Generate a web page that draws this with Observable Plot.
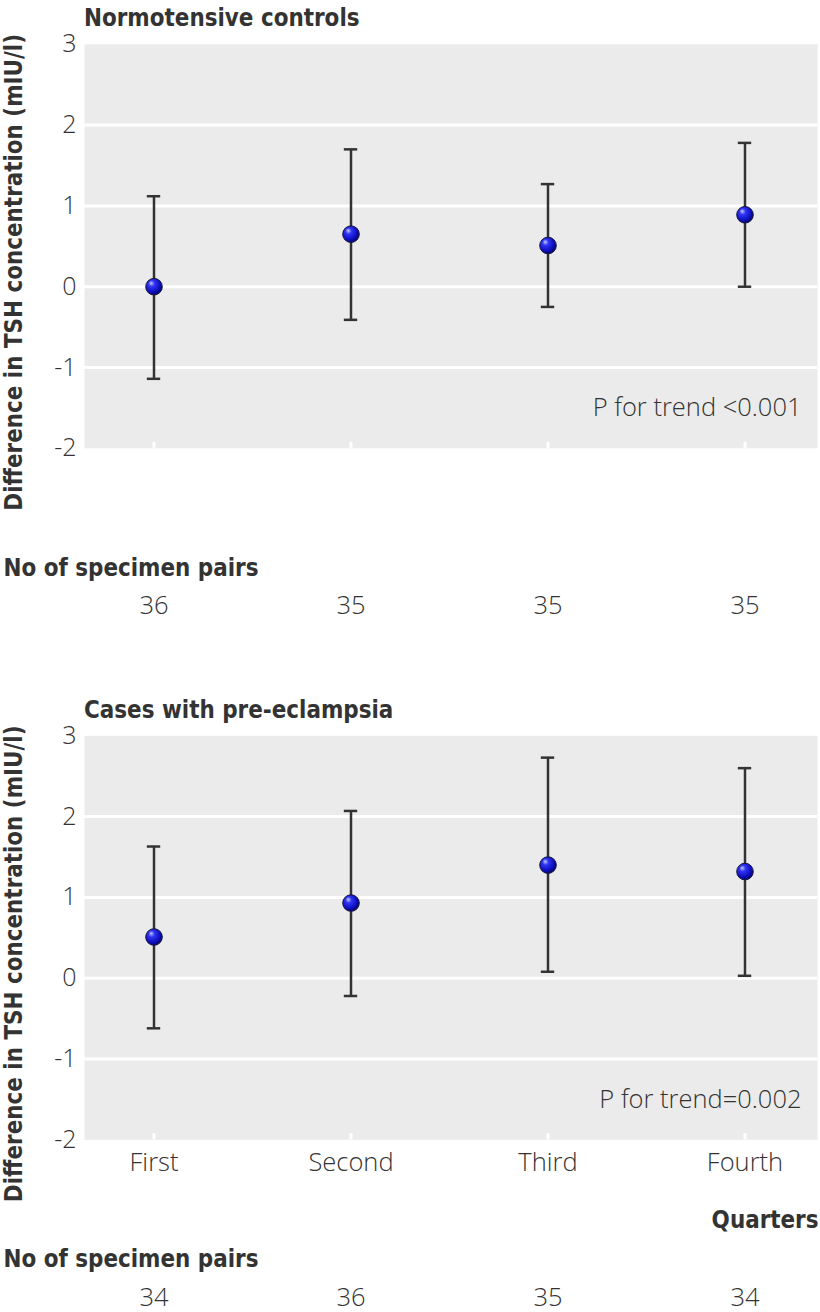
<!DOCTYPE html>
<html>
<head>
<meta charset="utf-8">
<script src="https://cdn.jsdelivr.net/npm/d3@7"></script>
<script src="https://cdn.jsdelivr.net/npm/@observablehq/plot@0.6"></script>
<style>
  body { margin: 0; background: #ffffff; width: 820px; }
  .ttl { margin: 0; padding-left: 84px; color: #333333; line-height: 1; white-space: nowrap; box-sizing: content-box; }
  svg { overflow: visible; }
</style>
</head>
<body>
<div id="chart"></div>
<script>
// ---- data ----
const categories = ["First", "Second", "Third", "Fourth"];
const yTicks = [-2, -1, 0, 1, 2, 3];
const gridTicks = [-1, 0, 1, 2];

const controlsMean = [0.00, 0.65, 0.51, 0.89];
const controlsLow  = [-1.14, -0.41, -0.25, 0.00];
const controlsHigh = [1.12, 1.70, 1.27, 1.78];
const controlsPairs = [36, 35, 35, 35];

const casesMean = [0.51, 0.93, 1.40, 1.32];
const casesLow  = [-0.62, -0.22, 0.08, 0.03];
const casesHigh = [1.63, 2.07, 2.73, 2.60];
const casesPairs = [34, 36, 35, 34];

const panelTitles = ["Normotensive controls", "Cases with pre-eclampsia"];
const pTexts = ["P for trend <0.001", "P for trend=0.002"];
const yLabel = "Difference in TSH concentration (mIU/l)";
const pairsLabel = "No of specimen pairs";
const xLabel = "Quarters";

// ---- fonts ----
const lightFont = "'Open Sans', 'Noto Sans', sans-serif";
const ctx = document.createElement("canvas").getContext("2d");
function hasFont(name) {
  ctx.font = "bold 100px monospace";
  const w0 = ctx.measureText(pairsLabel).width;
  ctx.font = `bold 100px "${name}", monospace`;
  const w1 = ctx.measureText(pairsLabel).width;
  return Math.abs(w0 - w1) > 0.5;
}
const boldName = ["DejaVu Sans Condensed", "Liberation Sans Narrow", "DejaVu Sans"].find(hasFont) || "DejaVu Sans";
const boldFont = `"${boldName}", sans-serif`;
ctx.font = `bold 100px ${boldFont}`;
const boldSize = Math.round(255 / ctx.measureText(pairsLabel).width * 1000) / 10;

const boldStyle = {fontFamily: boldFont, fontWeight: "bold", fontSize: boldSize, fill: "#333333"};
const lightStyle = {fontFamily: lightFont, fontWeight: 300, fontSize: 25.5, fill: "#333333"};

// band layout
const marginLeft = 84, marginRight = 3, width = 820;
const padInner = 0.5, padOuter = 0.1085, bandAlign = 0.467;
const bandStep = (width - marginLeft - marginRight) / (categories.length - padInner + 2 * padOuter);
const bandWidth = bandStep * (1 - padInner);
const capHalf = 6.5;
const capInset = bandWidth / 2 - capHalf;

function panel(cfg) {
  const S = boldSize;
  const div = document.createElement("div");
  div.className = "ttl";
  const pad = cfg.baseline - 0.846 * S - cfg.divTop;
  div.style.paddingTop = pad + "px";
  div.style.height = S + "px";
  div.style.fontFamily = boldFont;
  div.style.fontWeight = "bold";
  div.style.fontSize = S + "px";
  div.textContent = cfg.title;

  const svgTop = cfg.divTop + pad + S;
  const height = cfg.svgBottom - svgTop;
  const marginTop = cfg.plotTop - svgTop;
  const marginBottom = cfg.svgBottom - cfg.plotBottom;
  const plotH = cfg.plotBottom - cfg.plotTop;

  const data = categories.map((q, i) => ({q, mean: cfg.mean[i], low: cfg.low[i], high: cfg.high[i], n: cfg.pairs[i]}));
  const id = cfg.id;
  const defs = () => {
    const g = d3.create("svg:defs");
    const rg = g.append("radialGradient").attr("id", id)
      .attr("cx", "40%").attr("cy", "38%").attr("r", "62%").attr("fx", "33%").attr("fy", "28%");
    rg.append("stop").attr("offset", "0%").attr("stop-color", "#c4caff");
    rg.append("stop").attr("offset", "30%").attr("stop-color", "#3035f2");
    rg.append("stop").attr("offset", "75%").attr("stop-color", "#0d0fc0");
    rg.append("stop").attr("offset", "100%").attr("stop-color", "#06066a");
    return g.node();
  };

  const marks = [
    Plot.frame({fill: "#ebebeb", stroke: "none"}),
    Plot.gridY(gridTicks, {stroke: "#ffffff", strokeOpacity: 1, strokeWidth: 3}),
    Plot.ruleX(categories, {x: d => d, insetTop: plotH - 6, stroke: "#ffffff", strokeWidth: 3}),
    Plot.ruleX(data, {x: "q", y1: "low", y2: "high", stroke: "#333333", strokeWidth: 2.5}),
    Plot.tickY(data, {x: "q", y: "high", insetLeft: capInset, insetRight: capInset, stroke: "#333333", strokeWidth: 2.5}),
    Plot.tickY(data, {x: "q", y: "low", insetLeft: capInset, insetRight: capInset, stroke: "#333333", strokeWidth: 2.5}),
    defs,
    Plot.dot(data, {x: "q", y: "mean", r: 8.3, fill: `url(#${id})`, stroke: "#15153c", strokeWidth: 1}),
    Plot.axisY({ticks: yTicks, tickSize: 0, tickPadding: 8, label: null, tickFormat: d => String(d), ...lightStyle, fontSize: 25}),
    Plot.text([cfg.pText], {text: d => d, frameAnchor: "bottom-right", dx: -16, dy: -40, textAnchor: "end", lineAnchor: "middle", ...lightStyle}),
    Plot.text([yLabel], {text: d => d, frameAnchor: "left", rotate: -90, dx: -70, dy: 26, textAnchor: "middle", lineAnchor: "middle", ...boldStyle}),
    Plot.text([pairsLabel], {text: d => d, frameAnchor: "bottom-left", dx: -81, dy: 120, textAnchor: "start", lineAnchor: "middle", ...boldStyle}),
    Plot.text(data, {x: "q", text: d => String(d.n), frameAnchor: "bottom", dy: 158, textAnchor: "middle", lineAnchor: "middle", ...lightStyle})
  ];
  if (cfg.showX) {
    marks.push(
      Plot.axisX({tickSize: 0, tickPadding: 13, label: null, ...lightStyle}),
      Plot.text([xLabel], {text: d => d, frameAnchor: "bottom-right", dx: 1, dy: 81, textAnchor: "end", lineAnchor: "middle", ...boldStyle})
    );
  }

  const chart = Plot.plot({
    width,
    height,
    marginTop,
    marginBottom,
    marginLeft,
    marginRight,
    x: {type: "band", domain: categories, paddingInner: padInner, paddingOuter: padOuter, align: bandAlign, axis: null},
    y: {domain: [-2, 3], axis: null},
    style: {background: "transparent", overflow: "visible", color: "#333333"},
    marks
  });
  const root = document.getElementById("chart");
  root.appendChild(div);
  root.appendChild(chart);
}

panel({id: "ballA", title: panelTitles[0], mean: controlsMean, low: controlsLow, high: controlsHigh, pairs: controlsPairs,
  pText: pTexts[0], showX: false, divTop: 0, baseline: 27.5, plotTop: 44, plotBottom: 448, svgBottom: 690});
panel({id: "ballB", title: panelTitles[1], mean: casesMean, low: casesLow, high: casesHigh, pairs: casesPairs,
  pText: pTexts[1], showX: true, divTop: 690, baseline: 719, plotTop: 735, plotBottom: 1139, svgBottom: 1312});
</script>
</body>
</html>
